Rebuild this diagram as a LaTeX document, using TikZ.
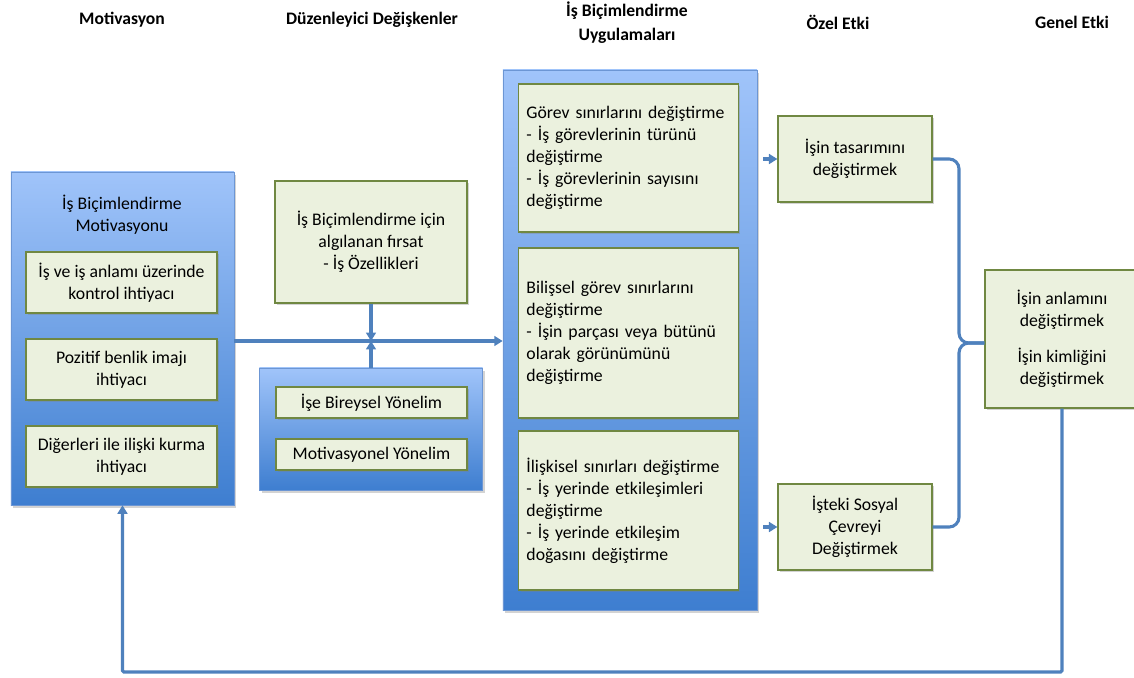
\documentclass[tikz,border=0pt]{standalone}
\usepackage{fontspec}
\setmainfont{Carlito}
\usepackage{xcolor}
\usepackage{tikz}
\usetikzlibrary{positioning}
\usetikzlibrary{shadows, arrows.meta}
\definecolor{kenarmavi}{RGB}{108,150,212}
\definecolor{acikmavi}{RGB}{160,196,250}
\definecolor{koyumavi}{RGB}{62,126,208}
\definecolor{yesilzemin}{RGB}{235,241,222}
\definecolor{yesilkenar}{RGB}{112,136,66}
\definecolor{cizgi}{RGB}{79,129,189}
\tikzset{
    kutu/.style={draw=kenarmavi, rectangle, top color=acikmavi, bottom color=koyumavi, drop shadow={opacity=0.35, shadow xshift=1.5pt, shadow yshift=-2pt}},
    madde/.style={draw=yesilkenar, line width=0.8pt, rectangle, fill=yesilzemin, align=center, drop shadow={opacity=0.35, shadow xshift=1.2pt, shadow yshift=-1.5pt}},
    liste/.style={madde, align=left, text width=5.1cm, inner xsep=0.19cm},
    baslik/.style={font=\bfseries\fontsize{12.5}{17}\selectfont, align=center},
    hat/.style={draw=cizgi, line width=2.2pt, rounded corners=7pt},
    oklu/.style={hat, rounded corners=1pt, -{Triangle[length=6pt,width=7pt]}}
}

\begin{document}
\begin{tikzpicture}[x=0.025cm, y=-0.025cm, every node/.style={font=\fontsize{12.6}{15.6}\selectfont}]
\useasboundingbox (0,0) rectangle (1134,678);

% basliklar
\node [baslik] (bMotiv)  at (122,20)  {Motivasyon};
\node [baslik] (bDuzen)  at (372,20)  {Düzenleyici Değişkenler};
\node [baslik] (bUyg)    at (627,23)  {İş Biçimlendirme\\Uygulamaları};
\node [baslik] (bOzel)   at (838,22)  {Özel Etki};
\node [baslik] (bGenel)  at (1072,22) {Genel Etki};

% motivasyon
\node [kutu, minimum width=5.575cm, minimum height=8.325cm] (motiv) at (122.5,338.5) {};
\node [align=center] (motivBaslik) at (122,215) {İş Biçimlendirme\\Motivasyonu};
\node [madde, minimum width=4.775cm, minimum height=1.525cm] (kontrol) at (121.5,282.5) {İş ve iş anlamı üzerinde\\kontrol ihtiyacı};
\node [madde, minimum width=4.775cm, minimum height=1.525cm] (benlik)  at (121.5,369.5) {Pozitif benlik imajı\\ihtiyacı};
\node [madde, minimum width=4.775cm, minimum height=1.525cm] (iliski)  at (121.5,456.5) {Diğerleri ile ilişki kurma\\ihtiyacı};

% duzenleyici degiskenler
\node [madde, minimum width=4.8cm, minimum height=3.05cm] (firsat) at (371,242) {İş Biçimlendirme için\\algılanan fırsat\\- İş Özellikleri};
\node [kutu, minimum width=5.575cm, minimum height=3.05cm] (duzen) at (371,429) {};
\node [madde, minimum width=4.775cm, minimum height=0.775cm] (bireysel) at (371.5,402.5) {İşe Bireysel Yönelim};
\node [madde, minimum width=4.775cm, minimum height=0.775cm] (yonelim)  at (371.5,454.5) {Motivasyonel Yönelim};

% uygulamalar
\node [kutu, minimum width=6.35cm, minimum height=13.5cm] (uyg) at (630,340) {};
\node [liste, minimum height=3.7cm]   (gorev)   at (628.5,158)   {Görev sınırlarını değiştirme\\- İş görevlerinin türünü\\değiştirme\\- İş görevlerinin sayısını\\değiştirme};
\node [liste, minimum height=4.25cm]  (bilissel) at (628.5,333)  {Bilişsel görev sınırlarını\\değiştirme\\- İşin parçası veya bütünü\\olarak görünümünü\\değiştirme};
\node [liste, minimum height=3.975cm] (iliskisel) at (628.5,510.5) {İlişkisel sınırları değiştirme\\- İş yerinde etkileşimleri\\değiştirme\\- İş yerinde etkileşim\\doğasını değiştirme};

% etkiler
\node [madde, minimum width=3.85cm, minimum height=2.15cm] (tasarim) at (855,159) {İşin tasarımını\\değiştirmek};
\node [madde, minimum width=3.85cm, minimum height=2.15cm] (sosyal)  at (855,527) {İşteki Sosyal\\Çevreyi\\Değiştirmek};
\node [madde, minimum width=3.85cm, minimum height=3.45cm] (anlam)   at (1062,339) {İşin anlamını\\değiştirmek\\[0.8em]İşin kimliğini\\değiştirmek};

\coordinate (kavsak) at (371,341);
\coordinate (ayrac)  at (959,343);
\coordinate (donus)  at (0,672);

\draw [oklu] (motiv.east |- kavsak) -- (uyg.west |- kavsak);
\draw [oklu] (firsat.south) -- (kavsak);
\draw [oklu] (duzen.north) -- (kavsak);
\draw [oklu, shorten <=0.15cm] (uyg.east |- tasarim.west) -- (tasarim.west);
\draw [oklu, shorten <=0.15cm] (uyg.east |- sosyal.west) -- (sosyal.west);
\draw [hat] (tasarim.east) -| (ayrac) -- (anlam.west |- ayrac);
\draw [hat] (sosyal.east) -| (ayrac) -- (anlam.west |- ayrac);
\draw [oklu] (anlam.south) -- (anlam.south |- donus) -- (motiv.south |- donus) -- (motiv.south);

\end{tikzpicture}
\end{document}
